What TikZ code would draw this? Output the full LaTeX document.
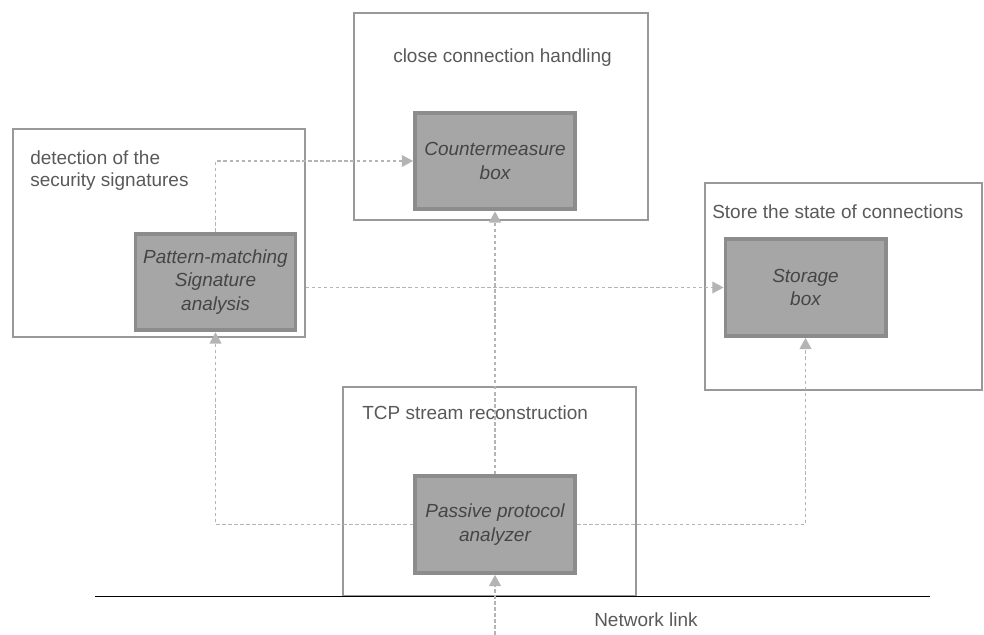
\documentclass[tikz,border=0pt]{standalone}
\usepackage{fontspec}
\setmainfont{Liberation Sans}
\usetikzlibrary{arrows.meta,positioning}
\usepackage{xcolor}
\definecolor{boxgray}{HTML}{A6A6A6}
\definecolor{edgegray}{HTML}{8C8C8C}
\definecolor{framegray}{HTML}{999999}
\definecolor{flowgray}{HTML}{B4B4B4}
\definecolor{labelgray}{HTML}{595959}
\definecolor{innergray}{HTML}{454545}

\begin{document}
\begin{tikzpicture}[x=0.025cm,y=-0.025cm,
      frame node/.style={rectangle,draw=framegray,line width=0.9pt},
      main node/.style={rectangle,draw=edgegray,fill=boxgray,line width=2.8pt,
          minimum width=4cm,minimum height=2.42cm,align=center,
          text=innergray,font=\fontsize{13.5}{17}\selectfont\itshape},
      label node/.style={anchor=west,align=left,inner sep=0,
          text=labelgray,font=\fontsize{13.5}{15.6}\selectfont},
      flow/.style={draw=flowgray,line width=0.9pt,dash pattern=on 2.5pt off 1.8pt,
          -{Triangle[length=8pt,width=8.5pt,fill=flowgray]}}]

    \useasboundingbox (0,0) rectangle (984,635);

    % outer frames
    \node[frame node,minimum width=7.3cm,minimum height=5.2cm] (detect) at (159,233) {};
    \node[frame node,minimum width=7.35cm,minimum height=5.175cm] (close) at (501,116.5) {};
    \node[frame node,minimum width=6.925cm,minimum height=5.175cm] (store) at (843.5,286.5) {};
    \node[frame node,minimum width=7.325cm,minimum height=5.225cm] (tcp) at (489.5,491.5) {};

    % frame labels
    \node[label node] (detectlbl) at (30,171) {detection of the\\security signatures};
    \node[label node] (closelbl) at (393,58) {close connection handling};
    \node[label node] (storelbl) at (712,212) {Store the state of connections};
    \node[label node] (tcplbl) at (362,413) {TCP stream reconstruction};

    % inner boxes
    \node[main node] (counter) at (495,161) {Countermeasure\\box};
    \node[main node] (pattern) at (215.5,282) {Pattern-matching\\Signature\\analysis};
    \node[main node] (storage) at (805.5,287.5) {Storage\\box};
    \node[main node] (passive) at (495,524.5) {Passive protocol\\analyzer};

    % network link
    \coordinate (linkL) at (95,596);
    \coordinate (linkR) at (930,596);
    \coordinate (netin) at (495,635);
    \draw[black,line width=0.6pt] (linkL) -- (linkR);
    \node[label node] (netlbl) at (594,620) {Network link};

    % flows
    \path[flow] (netin) -- (passive.south);
    \path[flow] (passive.north) -- (counter.south);
    \path[flow] (passive.west) -| (pattern.south);
    \path[flow] (passive.east) -| (storage.south);
    \path[flow] (detect.east |- storage.west) -- (storage.west);
    \path[flow] (pattern.north) |- (counter.west);

  \end{tikzpicture}
\end{document}
